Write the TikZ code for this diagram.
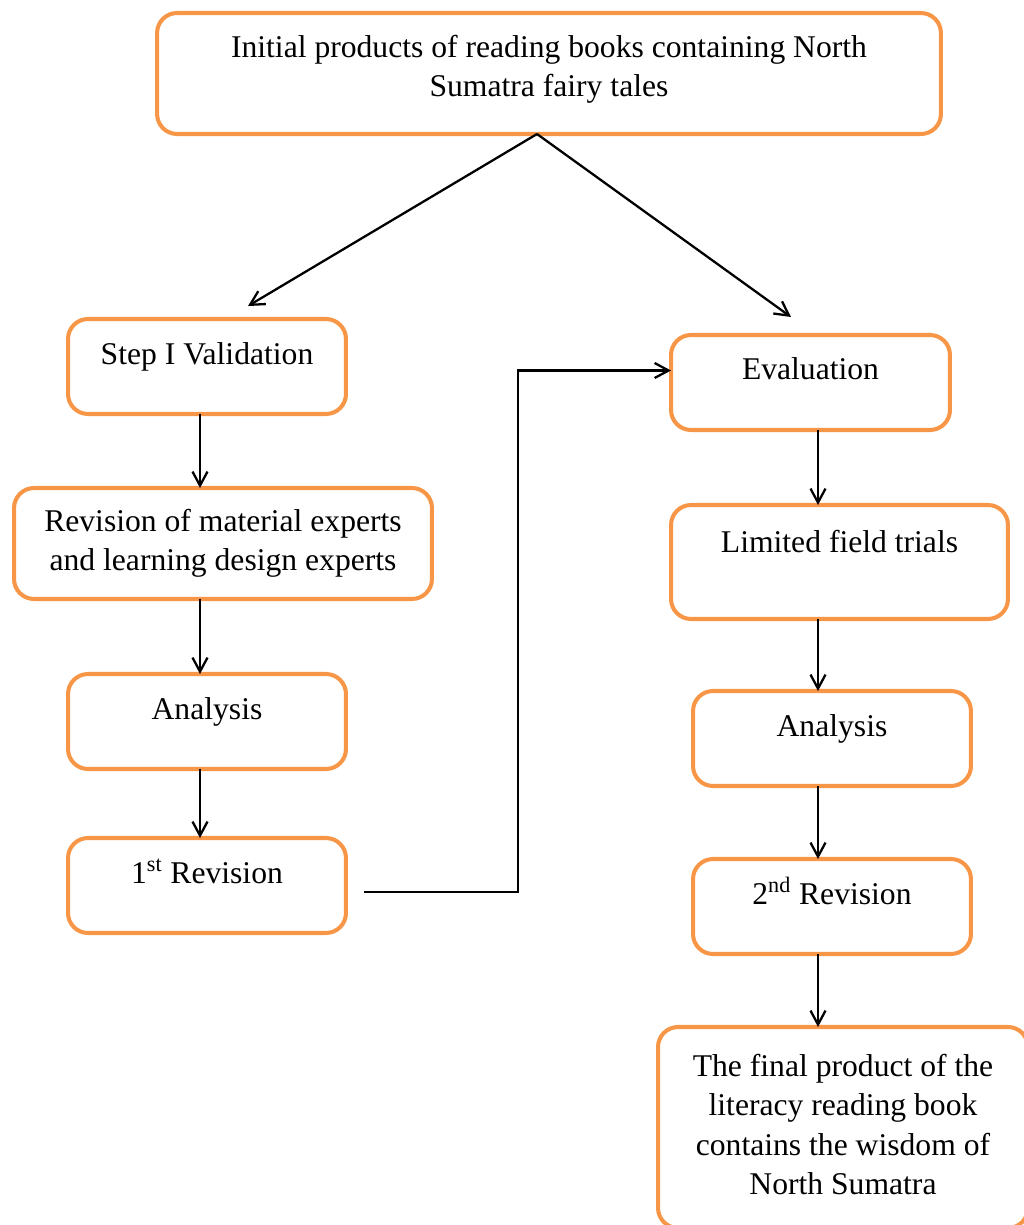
\documentclass[tikz,border=0pt]{standalone}
\usepackage{fontspec}
\setmainfont{Liberation Serif}
\usetikzlibrary{calc,positioning,arrows.meta}
\definecolor{boxorange}{HTML}{F79646}

\begin{document}
\begin{tikzpicture}[>={Straight Barb[length=2.8mm,width=3mm]}, x=0.02cm, y=-0.02cm,
    box/.style={draw=boxorange, line width=2.3pt, rounded corners=0.4cm, anchor=north,
      align=center, inner sep=0pt, outer sep=0pt,
      font=\fontsize{18}{22.5}\selectfont, minimum width=5.56cm,
      text height=0.9cm, text depth=1.0cm},
    link/.style={->, line width=1.3pt}]
    \useasboundingbox (0,0) rectangle (1024,1225);

    \node[box, minimum width=15.68cm, text height=1.68cm, text depth=0.74cm] (init) at (549,13)
      {Initial products of reading books containing North\\Sumatra fairy tales};

    % left column
    \node[box] (val) at (207,319) {Step I Validation};
    \node[box, minimum width=8.36cm, text height=1.66cm, text depth=0.56cm] (rev) at (223,488)
      {Revision of material experts\\and learning design experts};
    \node[box] (anl) at (207,674) {Analysis};
    \node[box] (rev1) at (207,838) {1\textsuperscript{st} Revision};

    % right column
    \node[box, minimum width=5.58cm] (eva) at (810.5,335) {Evaluation};
    \node[box, minimum width=6.74cm, text height=0.94cm, text depth=1.34cm] (lft) at (839.5,505)
      {Limited field trials};
    \node[box] (anr) at (832,691) {Analysis};
    \node[box] (rev2) at (832,859) {2\textsuperscript{nd} Revision};
    \node[box, minimum width=7.4cm, text height=3.36cm, text depth=0.66cm] (fin) at (843,1027)
      {The final product of the\\literacy reading book\\contains the wisdom of\\North Sumatra};

    \coordinate (split) at (537,134);
    \coordinate (colL) at (200,0);
    \coordinate (colR) at (818,0);
    \coordinate (bend) at (518,0);

    % split to both branches
    \draw[link] (split) -- ([xshift=0.82cm,yshift=0.26cm]val.north);
    \draw[link] (split) -- ([xshift=-0.39cm,yshift=0.36cm]eva.north);

    % down the left
    \draw[link] (val.south -| colL) -- (rev.north -| colL);
    \draw[link] (rev.south -| colL) -- (anl.north -| colL);
    \draw[link] (anl.south -| colL) -- (rev1.north -| colL);

    % over to the right
    \coordinate (out) at ([xshift=0.36cm,yshift=-0.13cm]rev1.east);
    \coordinate (in) at ([yshift=0.24cm]eva.west);
    \draw[link] (out) -- (out -| bend) |- (in);

    % down the right
    \draw[link] (eva.south -| colR) -- (lft.north -| colR);
    \draw[link] (lft.south -| colR) -- (anr.north -| colR);
    \draw[link] (anr.south -| colR) -- (rev2.north -| colR);
    \draw[link] (rev2.south -| colR) -- (fin.north -| colR);
\end{tikzpicture}
\end{document}
